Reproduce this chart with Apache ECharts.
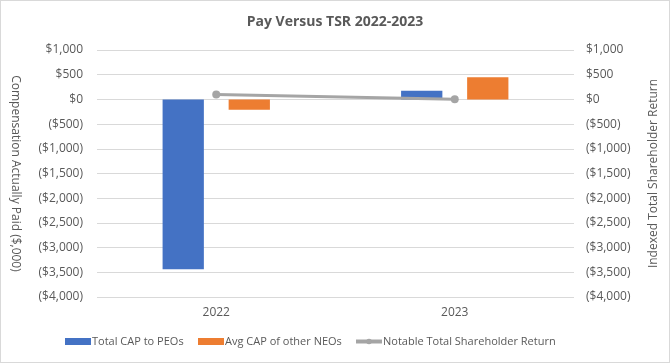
<!DOCTYPE html>
<html><head><meta charset="utf-8">
<script src="https://cdn.jsdelivr.net/npm/echarts@6/dist/echarts.min.js"></script>
<style>html,body{margin:0;padding:0;background:#fff}#c{width:670px;height:363px;box-sizing:border-box;border:1px solid #d9d9d9}</style>
</head><body><div id="c"></div>
<script>
var categories = ['2022', '2023'];
var totalCapPeos = [-3440, 175];
var avgCapNeos = [-207, 448];
var tsr = [100, 2];
var seriesNames = ['Total CAP to PEOs', 'Avg CAP of other NEOs', 'Notable Total Shareholder Return'];

function fmt(v) {
  var s = '$' + Math.abs(v).toLocaleString('en-US');
  return v < 0 ? '(' + s + ')' : s;
}
var font = '"Open Sans", "Liberation Sans", sans-serif';
function leg(name, left, icon) {
  var d = {name: name};
  if (icon) d.icon = icon;
  else { d.lineStyle = {width: 4}; }
  return {top: 335, left: left, itemWidth: 26, itemHeight: 7, padding: 0,
    textStyle: {fontSize: 11, color: '#595959', fontFamily: font, padding: [0,0,0,-4]},
    data: [d]};
}
var chart = echarts.init(document.getElementById('c'));
chart.setOption({
  animation: false,
  textStyle: {fontFamily: font},
  title: {text: 'Pay Versus TSR 2022-2023', left: 'center', top: 9,
    textStyle: {fontSize: 14, fontWeight: 'bold', color: '#595959', fontFamily: font}},
  grid: {left: 95, right: 95, top: 49, bottom: 65},
  legend: [leg(seriesNames[0], 64, 'rect'), leg(seriesNames[1], 197, 'rect'), leg(seriesNames[2], 353)],
  xAxis: {type: 'category', data: categories,
    axisLine: {show: false}, axisTick: {show: false},
    axisLabel: {fontSize: 12, color: '#595959', margin: 10}},
  yAxis: [
    {type: 'value', min: -4000, max: 1000, interval: 500,
      name: 'Compensation Actually Paid ($,000)', nameLocation: 'middle', nameRotate: -90, nameGap: 76,
      nameTextStyle: {fontSize: 12, color: '#595959'},
      axisLabel: {formatter: fmt, fontSize: 12, color: '#595959', margin: 14},
      splitLine: {lineStyle: {color: '#d9d9d9'}}, axisLine: {show: false}, axisTick: {show: false}},
    {type: 'value', min: -4000, max: 1000, interval: 500, position: 'right',
      name: 'Indexed Total Shareholder Return', nameLocation: 'middle', nameRotate: 90, nameGap: 74,
      nameTextStyle: {fontSize: 12, color: '#595959'},
      axisLabel: {formatter: fmt, fontSize: 12, color: '#595959', margin: 12},
      splitLine: {show: false}, axisLine: {show: false}, axisTick: {show: false}}
  ],
  series: [
    {name: seriesNames[0], type: 'bar', data: totalCapPeos, barGap: '60%', barCategoryGap: '55%',
      itemStyle: {color: '#4472c4'}},
    {name: seriesNames[1], type: 'bar', data: avgCapNeos, itemStyle: {color: '#ed7d31'}},
    {name: seriesNames[2], type: 'line', yAxisIndex: 1, data: tsr, symbol: 'circle', symbolSize: 8,
      lineStyle: {color: '#a5a5a5', width: 3}, itemStyle: {color: '#a5a5a5'}}
  ]
});
</script></body></html>
